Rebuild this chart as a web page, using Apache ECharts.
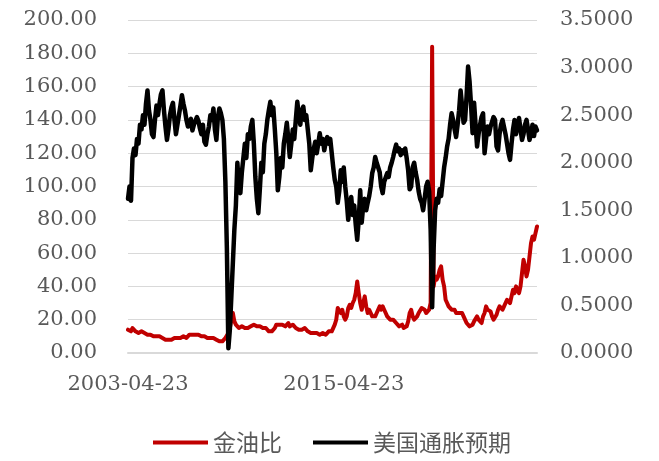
<!DOCTYPE html>
<html>
<head>
<meta charset="utf-8">
<script src="https://cdn.jsdelivr.net/npm/echarts@6/dist/echarts.min.js"></script>
<style>html,body{margin:0;padding:0;background:#fff}#c{width:659px;height:461px}</style>
</head>
<body>
<div id="c"></div>
<script>
// Monthly categories (23rd of each month), 2003-04-23 .. 2026-01-23
const dates = [];
for (let y = 2003, m = 4; y < 2026 || (y === 2026 && m <= 1); ) {
  dates.push(y + '-' + String(m).padStart(2, '0') + '-23');
  m++; if (m > 12) { m = 1; y++; }
}
const seriesNames = ['金油比', '美国通胀预期'];
const leftTicks = { min: 0, max: 200, interval: 20 };
const rightTicks = { min: 0, max: 3.5, interval: 0.5 };

// 金油比 (left axis)
const goldOilRatio = [
  14, 15, 13, 15, 14, 13, 14, 12, 13,
  13, 12, 12, 11, 11, 12, 11, 10, 10, 9, 10, 10,
  10, 9, 9, 8, 8, 8, 8, 7, 8, 8, 9, 9,
  9, 10, 9, 9, 10, 9, 9, 10, 11, 10, 11, 12,
  11, 12, 11, 10, 10, 10, 10, 10, 9, 9, 9, 9,
  9, 8, 8, 7, 7, 7, 7, 8, 9, 10, 12, 15,
  20, 24, 19, 17, 16, 15, 15, 16, 16, 15, 16, 15,
  15, 16, 16, 17, 18, 16, 15, 16, 16, 15, 16, 15,
  14, 13, 12, 13, 14, 15, 17, 16, 17, 16, 17, 16,
  16, 17, 18, 16, 17, 17, 16, 15, 15, 14, 15, 14,
  14, 15, 14, 13, 13, 12, 12, 12, 11, 12, 12, 11,
  12, 12, 11, 11, 12, 13, 12, 13, 14, 17, 20, 27,
  27, 24, 26, 22, 20, 22, 27, 29, 27, 30, 32, 36,
  43, 36, 30, 26, 30, 34, 28, 24, 26, 24, 22, 23,
  22, 24, 25, 28, 26, 28, 26, 24, 22, 21, 20, 20,
  20, 19, 18, 17, 16, 16, 17, 15, 14, 16, 19, 24,
  26, 22, 20, 21, 22, 24, 25, 27, 28, 26, 24, 23,
  26, 30, 184, 40, 46, 44, 46, 50, 52, 44, 40, 32,
  30, 28, 27, 26, 25, 26, 24, 25, 24, 23, 24, 22,
  21, 18, 17, 16, 16, 17, 19, 20, 22, 20, 19, 18,
  22, 24, 28, 26, 27, 25, 22, 20, 21, 23, 26, 28,
  27, 26, 28, 30, 32, 31, 30, 34, 38, 36, 40, 38,
  36, 40, 48, 56, 52, 46, 50, 58, 66, 70, 68, 72,
  76
];

// 美国通胀预期 (right axis)
const inflationExpectation = [
  1.62, 1.75, 1.60, 2.05, 2.15, 2.08, 2.25, 2.20, 2.40,
  2.35, 2.50, 2.40, 2.62, 2.76, 2.55, 2.45, 2.30, 2.27, 2.45, 2.60, 2.50,
  2.62, 2.72, 2.76, 2.55, 2.38, 2.24, 2.35, 2.50, 2.58, 2.63, 2.45, 2.30,
  2.32, 2.50, 2.60, 2.71, 2.62, 2.55, 2.45, 2.38, 2.40, 2.46, 2.34, 2.40,
  2.42, 2.48, 2.44, 2.36, 2.30, 2.40, 2.22, 2.19, 2.30, 2.38, 2.50, 2.45,
  2.57, 2.35, 2.24, 2.48, 2.57, 2.52, 2.45, 2.25, 1.80, 1.10, 0.05, 0.25,
  0.60, 0.95, 1.30, 1.55, 2.00, 1.75, 1.68, 1.90, 2.05, 2.20, 2.05, 2.30,
  2.25, 2.38, 2.45, 2.20, 1.85, 1.62, 1.47, 1.72, 2.00, 1.90, 2.20, 2.30,
  2.45, 2.55, 2.64, 2.50, 2.58, 2.35, 2.10, 1.71, 1.85, 2.05, 1.95, 2.20,
  2.30, 2.42, 2.25, 2.06, 2.20, 2.35, 2.25, 2.45, 2.64, 2.50, 2.40, 2.55,
  2.59, 2.45, 2.50, 2.35, 2.20, 1.92, 2.05, 2.15, 2.22, 2.10, 2.20, 2.31,
  2.20, 2.25, 2.13, 2.22, 2.27, 2.20, 2.25, 2.10, 1.95, 1.82, 1.75, 1.58,
  1.70, 1.92, 1.80, 1.95, 1.75, 1.60, 1.40, 1.55, 1.64, 1.45, 1.55, 1.35,
  1.19, 1.40, 1.71, 1.37, 1.55, 1.62, 1.50, 1.58, 1.65, 1.75, 1.89, 1.95,
  2.06, 2.00, 1.95, 1.90, 1.75, 1.68, 1.80, 1.82, 1.89, 1.85, 1.95, 2.00,
  2.06, 2.13, 2.19, 2.12, 2.15, 2.08, 2.13, 2.10, 2.15, 2.05, 1.92, 1.72,
  1.75, 1.95, 2.00, 1.90, 1.82, 1.70, 1.62, 1.58, 1.50, 1.62, 1.75, 1.80,
  1.70, 1.30, 0.48, 1.10, 1.50, 1.62, 1.58, 1.72, 1.65, 1.80, 1.95, 2.05,
  2.17, 2.25, 2.40, 2.52, 2.45, 2.35, 2.27, 2.40, 2.55, 2.76, 2.60, 2.42,
  2.45, 2.70, 3.01, 2.85, 2.60, 2.31, 2.63, 2.40, 2.17, 2.30, 2.40, 2.48,
  2.52, 2.10, 2.25, 2.38, 2.30, 2.38, 2.40, 2.48, 2.45, 2.17, 2.13, 2.30,
  2.40, 2.45, 2.43, 2.30, 2.20, 2.10, 2.03, 2.20, 2.35, 2.45, 2.30, 2.40,
  2.47, 2.35, 2.24, 2.30, 2.40, 2.45, 2.35, 2.24, 2.30, 2.40, 2.28, 2.38,
  2.34
];

const axisFont = { fontFamily: 'DejaVu Serif', fontSize: 21, color: '#595959' };
const chart = echarts.init(document.getElementById('c'), null, { renderer: 'canvas' });
chart.setOption({
  animation: false,
  backgroundColor: '#ffffff',
  grid: { left: 128, right: 122, top: 20, bottom: 108, containLabel: false },
  legend: {
    data: seriesNames,
    left: 148, top: 426,
    icon: 'rect', itemWidth: 55, itemHeight: 4, itemGap: 31,
    textStyle: { fontFamily: 'Noto Sans CJK SC', fontSize: 23, color: '#595959' }
  },
  xAxis: {
    type: 'category', data: dates, boundaryGap: false,
    axisLine: { show: true, lineStyle: { color: '#d9d9d9', width: 2 } },
    axisTick: { show: false },
    axisLabel: Object.assign({ interval: 143, margin: 21 }, axisFont),
    splitLine: { show: false }
  },
  yAxis: [
    {
      type: 'value', min: leftTicks.min, max: leftTicks.max, interval: leftTicks.interval,
      axisLine: { show: false }, axisTick: { show: false },
      axisLabel: Object.assign({ margin: 31, formatter: v => v.toFixed(2) }, axisFont),
      splitLine: { show: true, lineStyle: { color: '#d9d9d9', width: 1 } }
    },
    {
      type: 'value', min: rightTicks.min, max: rightTicks.max, interval: rightTicks.interval,
      axisLine: { show: false }, axisTick: { show: false },
      axisLabel: Object.assign({ margin: 23, formatter: v => v.toFixed(4) }, axisFont),
      splitLine: { show: false }
    }
  ],
  series: [
    {
      name: seriesNames[0], type: 'line', yAxisIndex: 0, data: goldOilRatio,
      symbol: 'none', color: '#C00000',
      lineStyle: { color: '#C00000', width: 4, join: 'round', cap: 'round' }
    },
    {
      name: seriesNames[1], type: 'line', yAxisIndex: 1, data: inflationExpectation,
      symbol: 'none', color: '#000000',
      lineStyle: { color: '#000000', width: 4.5, join: 'round', cap: 'round' }
    }
  ]
});
</script>
</body>
</html>
